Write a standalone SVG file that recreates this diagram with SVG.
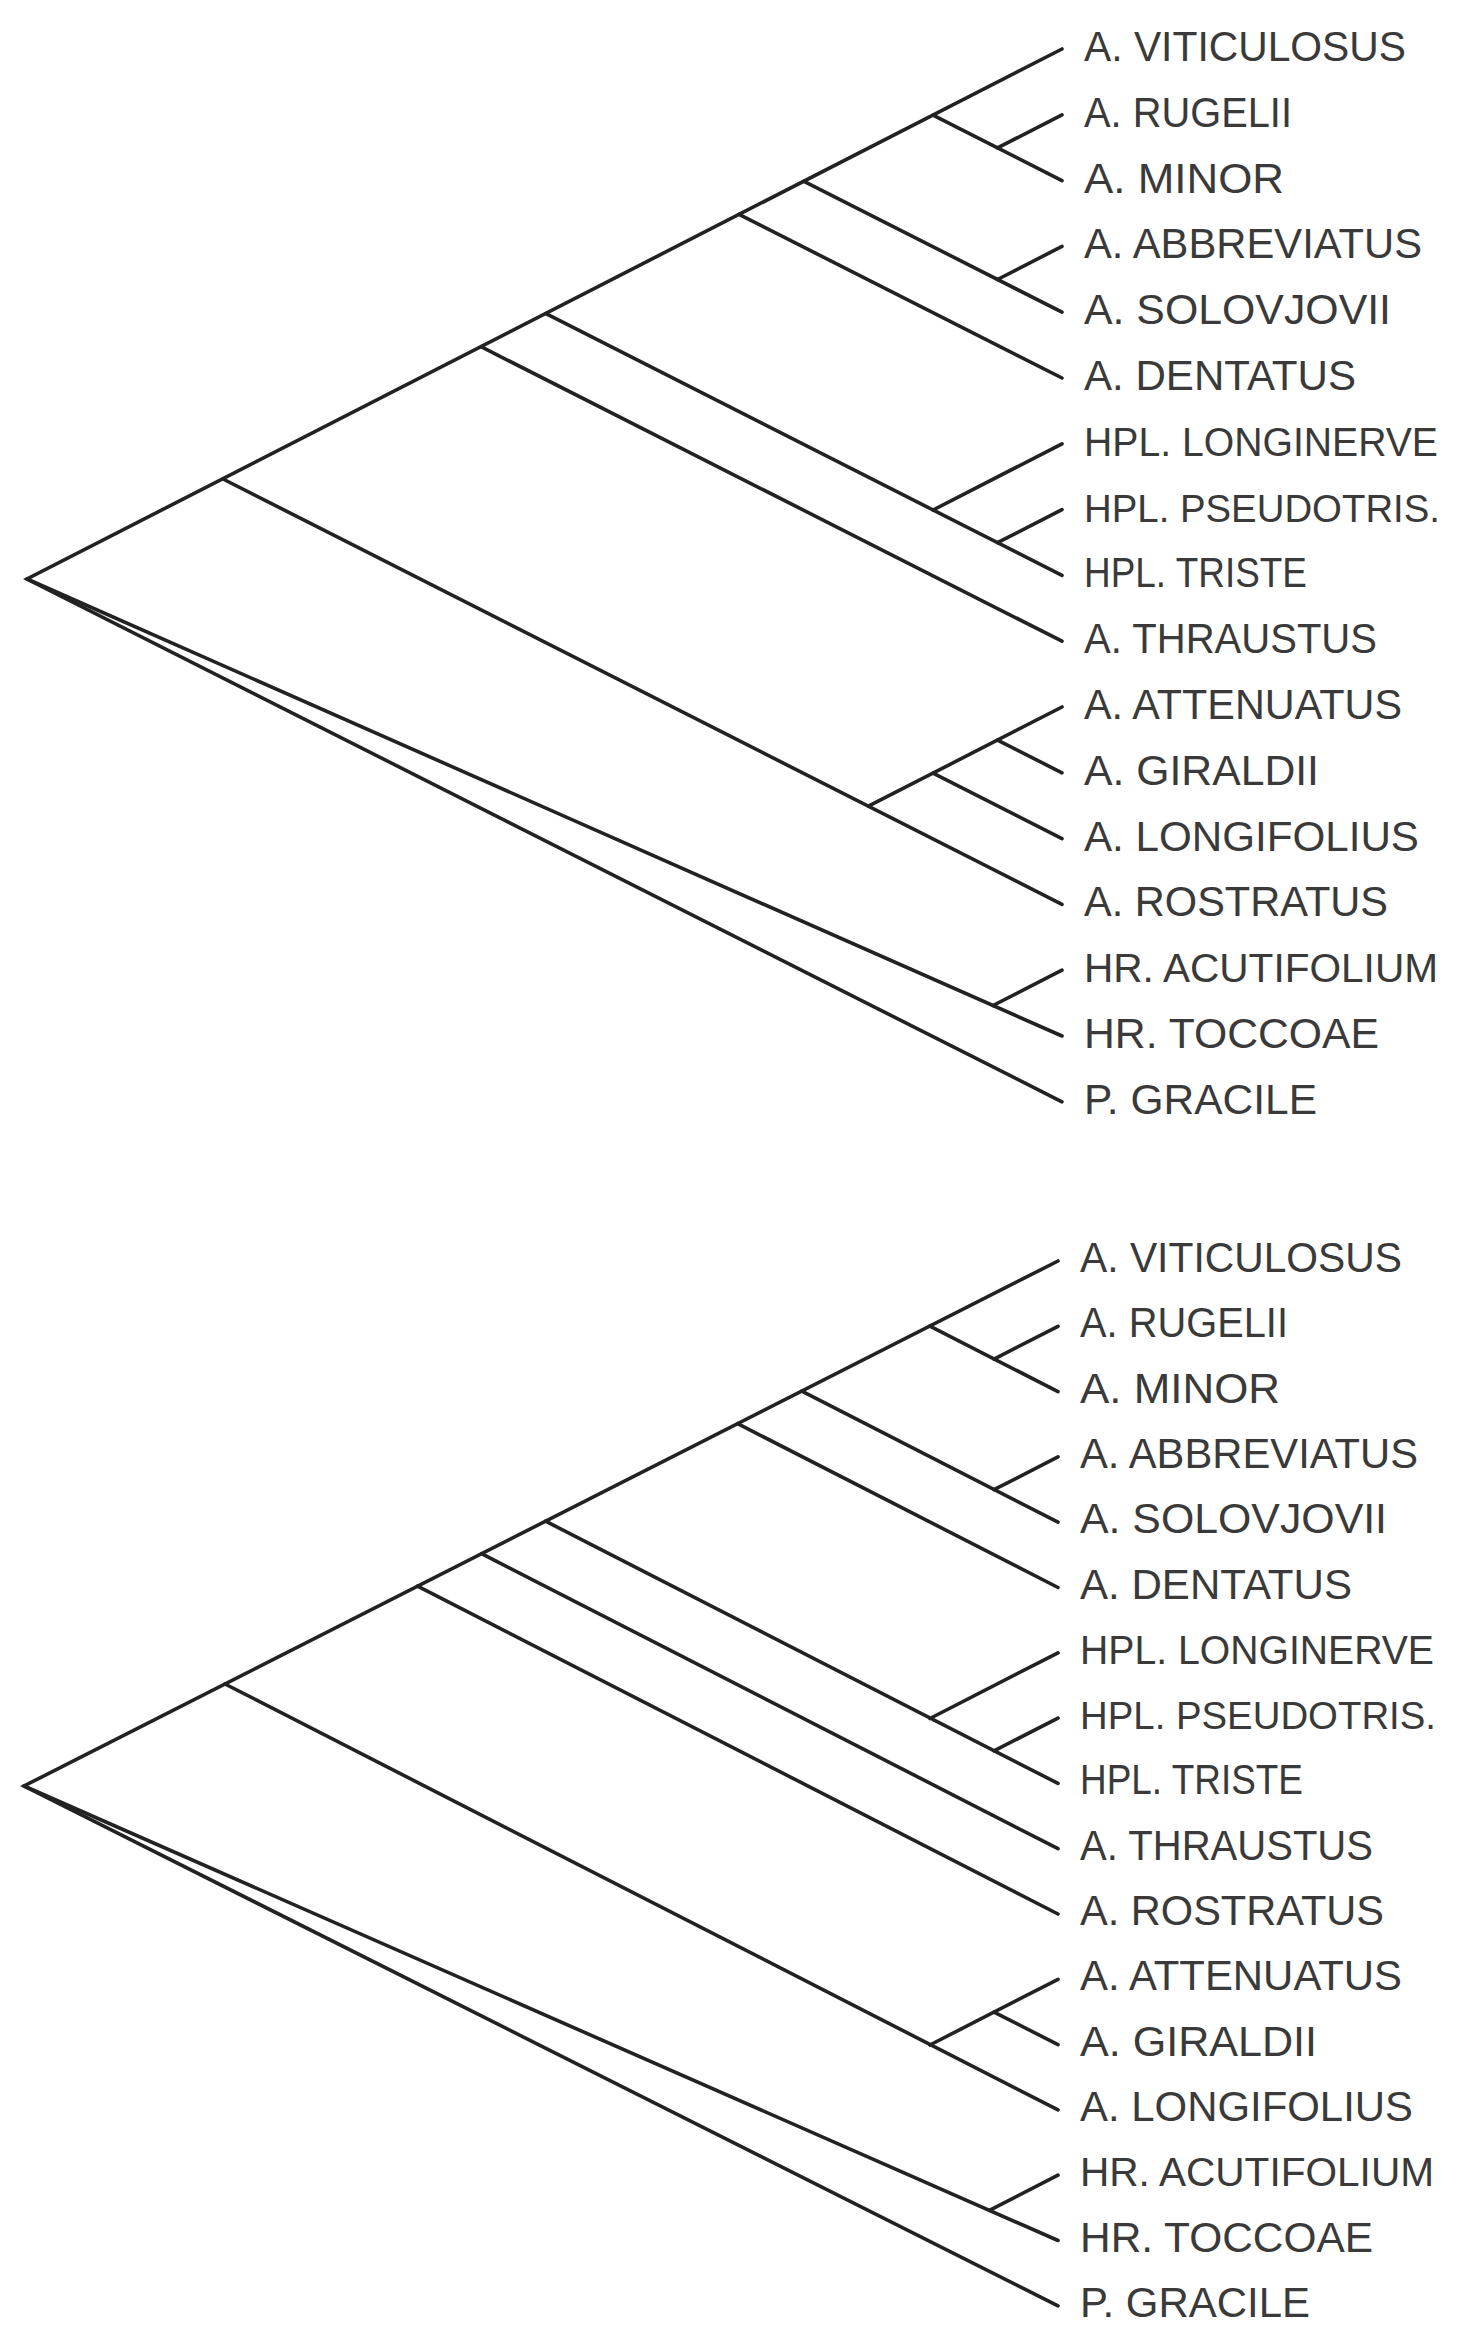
<svg xmlns="http://www.w3.org/2000/svg" width="1458" height="2329" viewBox="0 0 1458 2329">
<style>
.edge path{fill:none;stroke:#222;stroke-width:3.6;stroke-linecap:round;stroke-linejoin:miter}
.lbl{font-family:"Liberation Sans",Arial,sans-serif;font-size:43px;fill:#3a3a3a}
.lbl.ln{font-size:40px}
.lbl.ps{font-size:38.5px}
.lbl.ac{font-size:41px}
</style>
<rect width="1458" height="2329" fill="#fff"/>
<g id="connectors-top" class="edge">
<path d="M1062,49 L27,579 L1062,1101.8"/>
<path d="M933,115.2 L1062,180.6"/>
<path d="M997.5,147.9 L1062,114.8"/>
<path d="M804,181.3 L1062,312.2"/>
<path d="M997.5,279.5 L1062,246.4"/>
<path d="M739,214.4 L1062,378"/>
<path d="M546,313.6 L1062,575.4"/>
<path d="M933,510 L1062,443.8"/>
<path d="M997.5,542.7 L1062,509.6"/>
<path d="M481,346.7 L1062,641.2"/>
<path d="M223,479 L1062,904.4"/>
<path d="M868.4,806.2 L1062,707"/>
<path d="M933,773.2 L1062,838.6"/>
<path d="M997.5,740.1 L1062,772.8"/>
<path d="M27,579 L1062,1036"/>
<path d="M993,1005.5 L1062,970.2"/>
</g>
<g id="connectors-bottom" class="edge">
<path d="M1058,1261 L24,1786 L1058,2305.8"/>
<path d="M929.9,1326.1 L1058,1391.6"/>
<path d="M994,1359.1 L1058,1326.3"/>
<path d="M801.8,1391.1 L1058,1522.2"/>
<path d="M994,1489.7 L1058,1456.9"/>
<path d="M737.7,1423.7 L1058,1587.5"/>
<path d="M545.6,1521.2 L1058,1783.4"/>
<path d="M929.9,1718.5 L1058,1652.8"/>
<path d="M994,1750.9 L1058,1718.1"/>
<path d="M481.5,1553.7 L1058,1848.7"/>
<path d="M417.5,1586.2 L1058,1914"/>
<path d="M225,1684 L1058,2109.9"/>
<path d="M929.9,2045 L1058,1979.3"/>
<path d="M994,2012.1 L1058,2044.6"/>
<path d="M24,1786 L1058,2240.5"/>
<path d="M989.4,2210.3 L1058,2175.2"/>
</g>
<g id="top-viticulosus"><text class="lbl" x="1084" y="61" textLength="322" lengthAdjust="spacingAndGlyphs">A. VITICULOSUS</text></g>
<g id="top-rugelii"><text class="lbl" x="1084" y="126.8" textLength="208" lengthAdjust="spacingAndGlyphs">A. RUGELII</text></g>
<g id="top-minor"><text class="lbl" x="1084" y="192.6" textLength="200" lengthAdjust="spacingAndGlyphs">A. MINOR</text></g>
<g id="top-abbreviatus"><text class="lbl" x="1084" y="258.4" textLength="338" lengthAdjust="spacingAndGlyphs">A. ABBREVIATUS</text></g>
<g id="top-solovjovii"><text class="lbl" x="1084" y="324.2" textLength="307" lengthAdjust="spacingAndGlyphs">A. SOLOVJOVII</text></g>
<g id="top-dentatus"><text class="lbl" x="1084" y="390" textLength="272" lengthAdjust="spacingAndGlyphs">A. DENTATUS</text></g>
<g id="top-longinerve"><text class="lbl ln" x="1084" y="455.8" textLength="354" lengthAdjust="spacingAndGlyphs">HPL. LONGINERVE</text></g>
<g id="top-pseudotris"><text class="lbl ps" x="1084" y="521.6" textLength="356" lengthAdjust="spacingAndGlyphs">HPL. PSEUDOTRIS.</text></g>
<g id="top-triste"><text class="lbl" x="1084" y="587.4" textLength="223" lengthAdjust="spacingAndGlyphs">HPL. TRISTE</text></g>
<g id="top-thraustus"><text class="lbl" x="1084" y="653.2" textLength="293" lengthAdjust="spacingAndGlyphs">A. THRAUSTUS</text></g>
<g id="top-attenuatus"><text class="lbl" x="1084" y="719" textLength="318" lengthAdjust="spacingAndGlyphs">A. ATTENUATUS</text></g>
<g id="top-giraldii"><text class="lbl" x="1084" y="784.8" textLength="235" lengthAdjust="spacingAndGlyphs">A. GIRALDII</text></g>
<g id="top-longifolius"><text class="lbl" x="1084" y="850.6" textLength="335" lengthAdjust="spacingAndGlyphs">A. LONGIFOLIUS</text></g>
<g id="top-rostratus"><text class="lbl" x="1084" y="916.4" textLength="304" lengthAdjust="spacingAndGlyphs">A. ROSTRATUS</text></g>
<g id="top-acutifolium"><text class="lbl ac" x="1084" y="982.2" textLength="354" lengthAdjust="spacingAndGlyphs">HR. ACUTIFOLIUM</text></g>
<g id="top-toccoae"><text class="lbl" x="1084" y="1048" textLength="295" lengthAdjust="spacingAndGlyphs">HR. TOCCOAE</text></g>
<g id="top-gracile"><text class="lbl" x="1084" y="1113.8" textLength="233" lengthAdjust="spacingAndGlyphs">P. GRACILE</text></g>
<g id="bot-viticulosus"><text class="lbl" x="1080" y="1272" textLength="322" lengthAdjust="spacingAndGlyphs">A. VITICULOSUS</text></g>
<g id="bot-rugelii"><text class="lbl" x="1080" y="1337.3" textLength="208" lengthAdjust="spacingAndGlyphs">A. RUGELII</text></g>
<g id="bot-minor"><text class="lbl" x="1080" y="1402.6" textLength="200" lengthAdjust="spacingAndGlyphs">A. MINOR</text></g>
<g id="bot-abbreviatus"><text class="lbl" x="1080" y="1467.9" textLength="338" lengthAdjust="spacingAndGlyphs">A. ABBREVIATUS</text></g>
<g id="bot-solovjovii"><text class="lbl" x="1080" y="1533.2" textLength="307" lengthAdjust="spacingAndGlyphs">A. SOLOVJOVII</text></g>
<g id="bot-dentatus"><text class="lbl" x="1080" y="1598.5" textLength="272" lengthAdjust="spacingAndGlyphs">A. DENTATUS</text></g>
<g id="bot-longinerve"><text class="lbl ln" x="1080" y="1663.8" textLength="354" lengthAdjust="spacingAndGlyphs">HPL. LONGINERVE</text></g>
<g id="bot-pseudotris"><text class="lbl ps" x="1080" y="1729.1" textLength="356" lengthAdjust="spacingAndGlyphs">HPL. PSEUDOTRIS.</text></g>
<g id="bot-triste"><text class="lbl" x="1080" y="1794.4" textLength="223" lengthAdjust="spacingAndGlyphs">HPL. TRISTE</text></g>
<g id="bot-thraustus"><text class="lbl" x="1080" y="1859.7" textLength="293" lengthAdjust="spacingAndGlyphs">A. THRAUSTUS</text></g>
<g id="bot-rostratus"><text class="lbl" x="1080" y="1925" textLength="304" lengthAdjust="spacingAndGlyphs">A. ROSTRATUS</text></g>
<g id="bot-attenuatus"><text class="lbl" x="1080" y="1990.3" textLength="322" lengthAdjust="spacingAndGlyphs">A. ATTENUATUS</text></g>
<g id="bot-giraldii"><text class="lbl" x="1080" y="2055.6" textLength="237" lengthAdjust="spacingAndGlyphs">A. GIRALDII</text></g>
<g id="bot-longifolius"><text class="lbl" x="1080" y="2120.9" textLength="333" lengthAdjust="spacingAndGlyphs">A. LONGIFOLIUS</text></g>
<g id="bot-acutifolium"><text class="lbl ac" x="1080" y="2186.2" textLength="354" lengthAdjust="spacingAndGlyphs">HR. ACUTIFOLIUM</text></g>
<g id="bot-toccoae"><text class="lbl" x="1080" y="2251.5" textLength="293" lengthAdjust="spacingAndGlyphs">HR. TOCCOAE</text></g>
<g id="bot-gracile"><text class="lbl" x="1080" y="2316.8" textLength="230" lengthAdjust="spacingAndGlyphs">P. GRACILE</text></g>
</svg>
